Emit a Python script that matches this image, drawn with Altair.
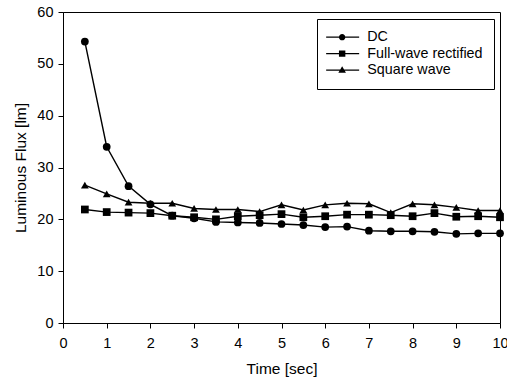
import altair as alt
import pandas as pd

times = [0.5, 1.0, 1.5, 2.0, 2.5, 3.0, 3.5, 4.0, 4.5, 5.0,
         5.5, 6.0, 6.5, 7.0, 7.5, 8.0, 8.5, 9.0, 9.5, 10.0]
dc = [54.3, 34.0, 26.4, 22.9, 20.7, 20.2, 19.5, 19.4, 19.3, 19.1,
      18.9, 18.5, 18.6, 17.8, 17.7, 17.7, 17.6, 17.2, 17.3, 17.3]
full_wave = [21.9, 21.4, 21.3, 21.2, 20.7, 20.4, 20.0, 20.6, 20.8, 21.0,
             20.4, 20.6, 20.9, 20.9, 20.8, 20.6, 21.2, 20.5, 20.6, 20.4]
square_wave = [26.6, 24.9, 23.3, 23.1, 23.1, 22.1, 21.9, 21.9, 21.5, 22.8,
               21.8, 22.8, 23.1, 23.0, 21.3, 23.0, 22.8, 22.3, 21.7, 21.7]
series_names = ["DC", "Full-wave rectified", "Square wave"]

rows = []
for name, vals in zip(series_names, [dc, full_wave, square_wave]):
    for t, v in zip(times, vals):
        rows.append({"t": t, "flux": v, "series": name})
df = pd.DataFrame(rows)

FONT = "Liberation Sans"

x_enc = alt.X("t:Q", title="Time [sec]",
              scale=alt.Scale(domain=[0, 10], nice=False, zero=False),
              axis=alt.Axis(values=list(range(0, 11)), labelPadding=8,
                            titlePadding=12, labelFlush=False))
y_enc = alt.Y("flux:Q", title="Luminous Flux [lm]",
              scale=alt.Scale(domain=[0, 60], nice=False),
              axis=alt.Axis(values=list(range(0, 61, 10)), labelPadding=5,
                            titlePadding=8))

base = alt.Chart(df)

lines = base.mark_line(color="black", strokeWidth=1.4).encode(
    x=x_enc, y=y_enc, detail="series:N", order="t:Q")

points = base.mark_point(filled=True, color="black", opacity=1, size=60).encode(
    x=x_enc, y=y_enc,
    shape=alt.Shape("series:N",
                    scale=alt.Scale(domain=series_names,
                                    range=["circle", "square", "triangle-up"]),
                    legend=None))

line_part = "M-2.25,-0.15H6V0.15H-2.25Z"
legend_paths = [
    line_part + "M2.55,0A0.8,0.8 0 1,1 0.95,0A0.8,0.8 0 1,1 2.55,0Z",
    line_part + "M0.95,-0.8H2.55V0.8H0.95Z",
    line_part + "M1.75,-1.0L2.7,0.65H0.8Z",
]

legend_layer = base.transform_filter("datum.t < 0").mark_point(
    filled=True, color="black", opacity=1).encode(
    x=x_enc, y=y_enc,
    shape=alt.Shape("series:N",
                    scale=alt.Scale(domain=series_names, range=legend_paths),
                    legend=alt.Legend(title=None, orient="none",
                                      legendX=254, legendY=7,
                                      padding=11, strokeColor="black",
                                      fillColor="white",
                                      labelFont=FONT, labelFontSize=14.3,
                                      labelColor="black",
                                      symbolSize=64, labelOffset=25,
                                      rowPadding=1.5)))

chart = alt.layer(lines, points, legend_layer).resolve_scale(
    shape="independent"
).properties(
    width=437, height=311,
    padding={"left": 63, "top": 12, "right": 7, "bottom": 60},
    autosize=alt.AutoSizeParams(type="none"),
    background="white",
).configure_view(
    stroke="black", strokeWidth=1
).configure_axis(
    grid=False, domainColor="black", tickColor="black", tickSize=5,
    labelFont=FONT, labelFontSize=14.5, labelColor="black",
    titleFont=FONT, titleFontSize=15.5, titleFontWeight="normal",
    titleColor="black", domainWidth=1
)

chart.save("out.html", embed_options={"renderer": "svg", "actions": False})
